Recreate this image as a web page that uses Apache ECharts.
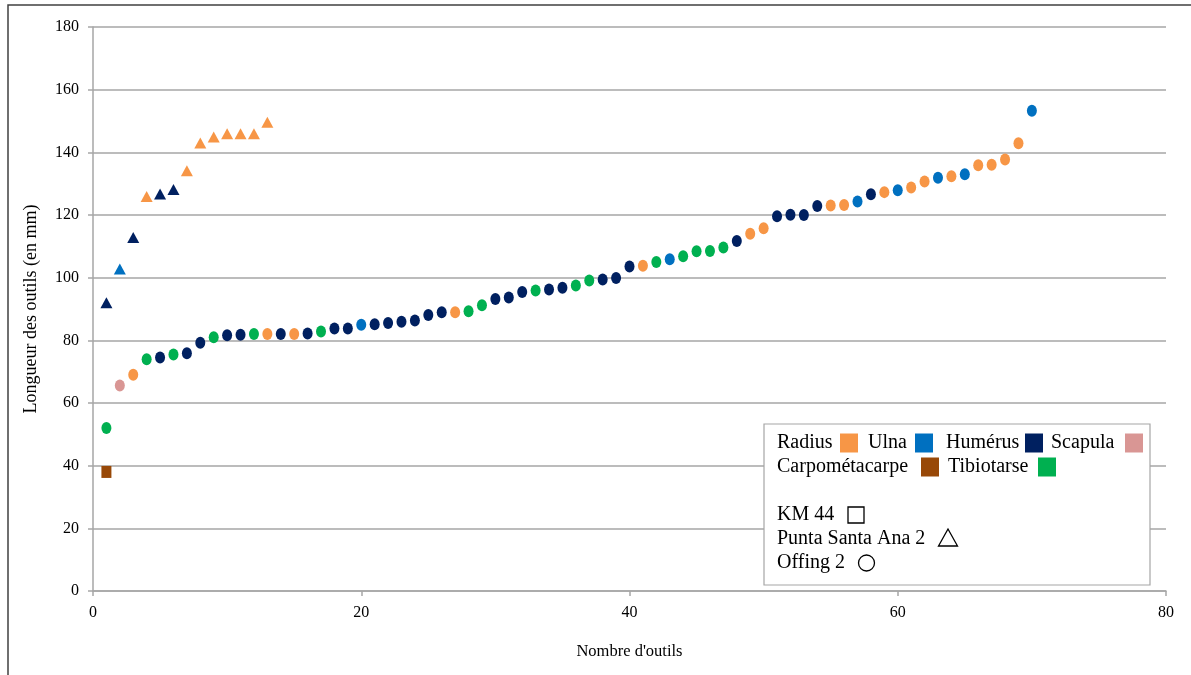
<!DOCTYPE html>
<html>
<head>
<meta charset="utf-8">
<script src="https://cdn.jsdelivr.net/npm/echarts@6/dist/echarts.min.js"></script>
<style>
html,body{margin:0;padding:0;background:#fff;}
#chart{width:1191px;height:675px;}
</style>
</head>
<body>
<div id="chart"></div>
<script>
// ---- Data ----
const boneNames = ['Radius', 'Ulna', 'Humérus', 'Scapula', 'Carpométacarpe', 'Tibiotarse'];
const boneColors = ['#F79646', '#0070C0', '#002060', '#D99694', '#984807', '#00B050'];

const siteNames = ['KM 44', 'Punta Santa Ana 2', 'Offing 2'];

// KM 44 (square)
const km44Values = [38.0];
const km44Bones = ['Carpométacarpe'];

// Punta Santa Ana 2 (triangle)
const psaValues = [92.0, 102.8, 112.8, 125.9, 126.7, 128.1, 134.1, 143.0, 144.9, 145.9, 145.9, 145.9, 149.6];
const psaBones = ['Humérus', 'Ulna', 'Humérus', 'Radius', 'Humérus', 'Humérus', 'Radius', 'Radius', 'Radius', 'Radius', 'Radius', 'Radius', 'Radius'];

// Offing 2 (circle)
const offingValues = [
  52.0, 65.6, 69.0, 74.0, 74.5, 75.5, 75.9, 79.2, 81.0, 81.6,
  81.8, 82.0, 82.0, 82.0, 82.0, 82.2, 82.8, 83.8, 83.8, 85.0,
  85.1, 85.5, 85.9, 86.3, 88.1, 89.0, 89.0, 89.3, 91.2, 93.2,
  93.7, 95.4, 95.9, 96.2, 96.8, 97.5, 99.1, 99.4, 99.9, 103.6,
  103.8, 105.0, 105.9, 106.8, 108.4, 108.5, 109.6, 111.7, 114.0, 115.8,
  119.6, 120.1, 120.0, 122.9, 123.0, 123.2, 124.3, 126.6, 127.3, 127.9,
  128.8, 130.7, 131.9, 132.4, 133.0, 135.9, 136.0, 137.7, 142.9, 153.3
];
const offingBones = [
  'Tibiotarse', 'Scapula', 'Radius', 'Tibiotarse', 'Humérus', 'Tibiotarse', 'Humérus', 'Humérus', 'Tibiotarse', 'Humérus',
  'Humérus', 'Tibiotarse', 'Radius', 'Humérus', 'Radius', 'Humérus', 'Tibiotarse', 'Humérus', 'Humérus', 'Ulna',
  'Humérus', 'Humérus', 'Humérus', 'Humérus', 'Humérus', 'Humérus', 'Radius', 'Tibiotarse', 'Tibiotarse', 'Humérus',
  'Humérus', 'Humérus', 'Tibiotarse', 'Humérus', 'Humérus', 'Tibiotarse', 'Tibiotarse', 'Humérus', 'Humérus', 'Humérus',
  'Radius', 'Tibiotarse', 'Ulna', 'Tibiotarse', 'Tibiotarse', 'Tibiotarse', 'Tibiotarse', 'Humérus', 'Radius', 'Radius',
  'Humérus', 'Humérus', 'Humérus', 'Humérus', 'Radius', 'Radius', 'Ulna', 'Humérus', 'Radius', 'Ulna',
  'Radius', 'Radius', 'Ulna', 'Radius', 'Ulna', 'Radius', 'Radius', 'Radius', 'Radius', 'Ulna'
];

const xTicks = [0, 20, 40, 60, 80];
const yTicks = [0, 20, 40, 60, 80, 100, 120, 140, 160, 180];

const xTitle = "Nombre d'outils";
const yTitle = 'Longueur des outils (en mm)';

// ---- Build ----
function colorOf(bone) { return boneColors[boneNames.indexOf(bone)]; }
function buildData(values, bones) {
  return values.map((v, i) => ({ value: [i + 1, v], itemStyle: { color: colorOf(bones[i]), opacity: 1 } }));
}

const FONT = '"Liberation Serif", "Times New Roman", serif';
const gridColor = '#A6A6A6';
const LFONT = '20px ' + FONT;

const chart = echarts.init(document.getElementById('chart'), null, { renderer: 'canvas' });

const L = 764, T = 424;
const graphics = [
  { type: 'rect', shape: { x: 8, y: 5, width: 1300, height: 800 }, style: { fill: 'none', stroke: '#404040', lineWidth: 1.5 }, silent: true, z: -10 },
  { type: 'rect', shape: { x: L, y: T, width: 386, height: 161 }, style: { fill: '#fff', stroke: '#A6A6A6', lineWidth: 1.2 }, z: 100 },
];
const row1Y = 443, row2Y = 467;
const row1 = [[boneNames[0], 777, 840], [boneNames[1], 868, 915], [boneNames[2], 946, 1025], [boneNames[3], 1051, 1125]];
const row2 = [[boneNames[4], 777, 921], [boneNames[5], 948, 1038]];
[[row1, row1Y], [row2, row2Y]].forEach(([row, ry]) => {
  row.forEach(([t, tx, sx]) => {
    graphics.push({ type: 'text', x: tx, y: ry, z: 101, style: { text: t, font: LFONT, fill: '#000', verticalAlign: 'middle', align: 'left' } });
    graphics.push({ type: 'rect', z: 101, shape: { x: sx, y: ry - 9.5, width: 18, height: 19 }, style: { fill: colorOf(t) } });
  });
});
const siteRows = [[siteNames[0], 515], [siteNames[1], 538.5], [siteNames[2], 562.5]];
siteRows.forEach(([t, y]) => {
  graphics.push({ type: 'text', x: 777, y, z: 101, style: { text: t, font: LFONT, fill: '#000', verticalAlign: 'middle', align: 'left' } });
});
graphics.push({ type: 'rect', z: 101, shape: { x: 848, y: 507, width: 16, height: 16 }, style: { fill: 'none', stroke: '#000', lineWidth: 1.3 } });
graphics.push({ type: 'polygon', z: 101, shape: { points: [[948, 529], [938.5, 546], [957.5, 546]] }, style: { fill: 'none', stroke: '#000', lineWidth: 1.3 } });
graphics.push({ type: 'ellipse', z: 101, shape: { cx: 866.5, cy: 563, rx: 8, ry: 8 }, style: { fill: 'none', stroke: '#000', lineWidth: 1.3 } });

const option = {
  backgroundColor: '#fff',
  animation: false,
  textStyle: { fontFamily: FONT },
  grid: { left: 93, right: 25, top: 27, bottom: 84, containLabel: false, outerBoundsMode: 'none' },
  xAxis: {
    type: 'value', min: xTicks[0], max: xTicks[xTicks.length - 1], interval: 20,
    name: xTitle, nameLocation: 'middle', nameGap: 52,
    nameTextStyle: { fontFamily: FONT, fontSize: 16.5, color: '#000' },
    axisLine: { show: true, onZero: false, lineStyle: { color: gridColor, width: 1.5 } },
    axisTick: { show: true, inside: false, length: 5, lineStyle: { color: gridColor, width: 1.5 } },
    axisLabel: { fontFamily: FONT, fontSize: 16, color: '#000', margin: 14 },
    splitLine: { show: false }
  },
  yAxis: {
    type: 'value', min: yTicks[0], max: yTicks[yTicks.length - 1], interval: 20,
    name: yTitle, nameLocation: 'middle', nameGap: 53, nameRotate: 90,
    nameTextStyle: { fontFamily: FONT, fontSize: 18, color: '#000' },
    axisLine: { show: true, lineStyle: { color: gridColor, width: 1.5 } },
    axisTick: { show: true, inside: false, length: 5, lineStyle: { color: gridColor, width: 1.5 } },
    axisLabel: { fontFamily: FONT, fontSize: 16, color: '#000', margin: 14 },
    splitLine: { show: true, lineStyle: { color: gridColor, width: 1.5 } }
  },
  series: [
    { name: siteNames[0], type: 'scatter', symbol: 'rect', symbolSize: [10, 12], itemStyle: { opacity: 1 }, data: buildData(km44Values, km44Bones), z: 3 },
    { name: siteNames[1], type: 'scatter', symbol: 'triangle', symbolSize: [12, 11], itemStyle: { opacity: 1 }, data: buildData(psaValues, psaBones), z: 3 },
    { name: siteNames[2], type: 'scatter', symbol: 'circle', symbolSize: [10, 12], itemStyle: { opacity: 1 }, data: buildData(offingValues, offingBones), z: 3 }
  ],
  graphic: { elements: graphics }
};
chart.setOption(option);
</script>
</body>
</html>
